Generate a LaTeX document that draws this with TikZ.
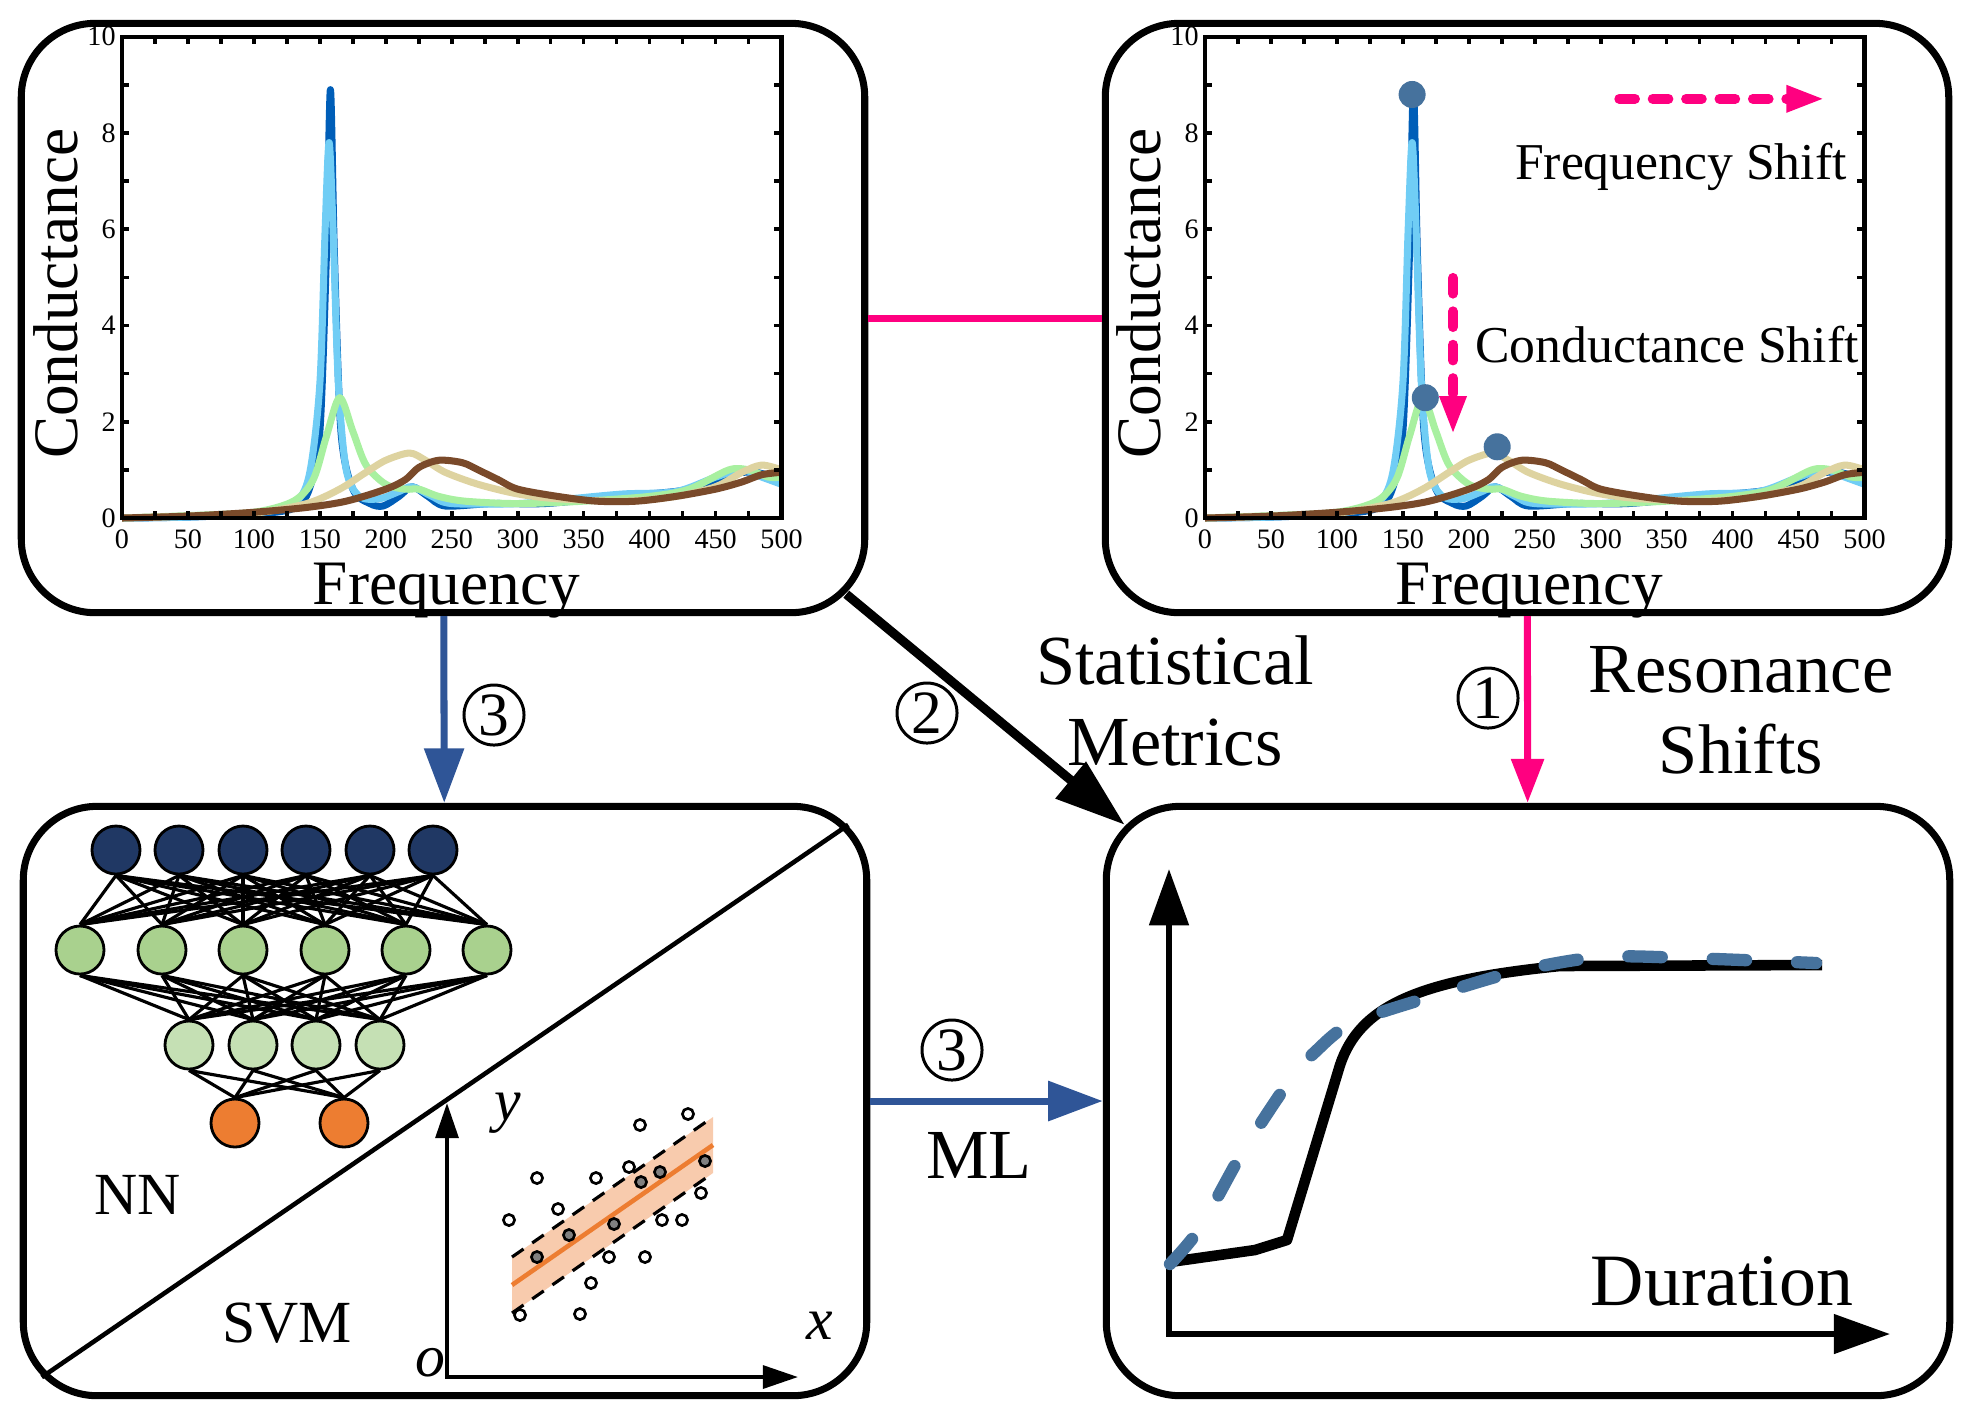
\documentclass[tikz,border=0pt]{standalone}
\usepackage{fontspec}
\setmainfont{Liberation Serif}
\usetikzlibrary{arrows.meta,calc}

\definecolor{pinkc}{RGB}{255,0,128}
\definecolor{arrowblue}{RGB}{47,85,151}
\definecolor{navy}{RGB}{32,56,100}
\definecolor{leafgreen}{RGB}{169,209,142}
\definecolor{palegreen}{RGB}{197,224,180}
\definecolor{outorange}{RGB}{237,125,49}
\definecolor{bandorange}{RGB}{248,203,173}
\definecolor{steel}{RGB}{70,114,157}
\definecolor{cdb}{RGB}{0,94,184}
\definecolor{clb}{RGB}{112,205,245}
\definecolor{clg}{RGB}{168,240,160}
\definecolor{ctan}{RGB}{222,211,160}
\definecolor{cbrown}{RGB}{122,74,42}

\tikzset{
  panel/.style={draw, line width=2pt, rounded corners=21pt, minimum width=8.43cm, minimum height=5.89cm},
  neuron/.style={circle, draw, line width=0.8pt, minimum size=0.48cm, inner sep=0pt},
  wire/.style={line width=0.9pt},
  ticklabel/.style={font=\fontsize{8}{8}\selectfont, inner sep=0.5pt},
  axlabel/.style={font=\fontsize{18}{18}\selectfont, inner sep=0pt},
  biglabel/.style={font=\fontsize{20}{23}\selectfont, align=center, inner sep=0pt},
  midlabel/.style={font=\fontsize{17}{17}\selectfont, inner sep=0pt},
  shiftlabel/.style={font=\fontsize{14.7}{15}\selectfont, inner sep=0pt},
  numlabel/.style={circle, draw, line width=0.85pt, minimum size=0.6cm, inner sep=0pt, font=\fontsize{17.5}{17.5}\selectfont},
  curve/.style={line width=2pt, line join=round},
  pinkline/.style={draw=pinkc, line width=2pt},
  pinkarrow/.style={pinkline, -{Triangle[length=12.5pt,width=9pt]}},
  bluearrow/.style={draw=arrowblue, line width=2pt, -{Triangle[length=15.5pt,width=11pt]}},
  blackarrow/.style={line width=2.6pt, -{Triangle[length=20pt,width=13pt]}},
  shiftarrow/.style={draw=pinkc, line width=2.8pt, dash pattern=on 4.5pt off 5pt, line cap=round, -{Triangle[length=11pt,width=7pt]}},
}

% one conductance plot, in data units
\newcommand{\condplot}[1]{%
  \draw[curve, cdb] plot[smooth, tension=0.5] coordinates {(0,0) (50,0.02) (100,0.08) (130,0.2) (142,0.6) (150,1.8) (155,5.5) (158,8.9) (161,5.5) (166,1.8) (175,0.6) (188,0.3) (198,0.25) (210,0.45) (220,0.65) (232,0.45) (245,0.25) (280,0.3) (320,0.3) (360,0.4) (400,0.5) (430,0.6) (460,0.9) (480,0.95) (500,0.8)};
  \draw[curve, clb] plot[smooth, tension=0.5] coordinates {(0,0) (50,0.02) (100,0.1) (130,0.3) (142,0.9) (150,2.8) (154,6) (157,7.8) (160,6) (164,2.8) (170,1.0) (180,0.45) (195,0.4) (210,0.55) (220,0.65) (235,0.45) (250,0.3) (300,0.3) (340,0.4) (380,0.5) (420,0.55) (450,0.85) (470,1.0) (485,0.85) (500,0.7)};
  \draw[curve, clg] plot[smooth, tension=0.5] coordinates {(0,0) (50,0.05) (100,0.12) (130,0.35) (145,0.8) (155,1.7) (165,2.5) (175,1.8) (185,1.1) (200,0.7) (215,0.6) (225,0.6) (240,0.45) (260,0.35) (300,0.3) (350,0.35) (400,0.45) (430,0.6) (460,1.0) (475,1.0) (490,0.85) (500,0.85)};
  \draw[curve, ctan] plot[smooth, tension=0.5] coordinates {(0,0) (50,0.04) (100,0.1) (140,0.3) (165,0.6) (185,0.95) (200,1.2) (218,1.35) (230,1.2) (245,0.95) (270,0.7) (300,0.5) (330,0.4) (380,0.35) (420,0.45) (450,0.65) (470,0.95) (485,1.1) (500,1.0)};
  \draw[curve, cbrown] plot[smooth, tension=0.5] coordinates {(0,0) (50,0.04) (100,0.12) (140,0.22) (170,0.35) (200,0.6) (215,0.8) (225,1.05) (240,1.2) (258,1.15) (270,1.0) (285,0.8) (300,0.6) (330,0.45) (360,0.35) (390,0.35) (420,0.45) (450,0.6) (470,0.75) (485,0.9) (500,0.95)};
  \draw[line width=1.2pt] (0,0) rectangle (500,10);
  \foreach \t in {0,25,...,500}
    \draw[line width=1pt] (\t,0) -- ++(0,0.15) (\t,10) -- ++(0,-0.15);
  \foreach \t in {0,...,10}
    \draw[line width=1pt] (0,\t) -- ++(5.5,0) (500,\t) -- ++(-5.5,0);
  \foreach \t in {0,50,...,500}
    \node[ticklabel, anchor=north] (#1x\t) at (\t,-0.2) {\t};
  \foreach \t in {0,2,...,10}
    \node[ticklabel, anchor=east] (#1y\t) at (-3,\t) {\t};
  \node[axlabel, rotate=90] (#1cond) at (-50,4.66) {Conductance};
  \node[axlabel] (#1freq) at (246,-1.5) {Frequency};
}

\begin{document}
\begin{tikzpicture}[x=0.01cm, y=-0.01cm]
  \useasboundingbox (0,0) rectangle (1973,1426);

  \node[panel] (tl) at (443,318) {};
  \node[panel] (tr) at (1527,318) {};
  \node[panel] (bl) at (445,1101) {};
  \node[panel] (br) at (1528,1101) {};

  % spectra
  \begin{scope}[shift={(122,518)}, x=0.01318cm, y=0.481cm]
    \condplot{p}
  \end{scope}
  \begin{scope}[shift={(1205,518)}, x=0.01318cm, y=0.481cm]
    \condplot{q}
    \fill[steel] (157,8.8) circle [radius=0.135cm];
    \fill[steel] (167,2.5) circle [radius=0.135cm];
    \fill[steel] (221.5,1.48) circle [radius=0.135cm];
    \coordinate (fs1) at (314,8.71);
    \coordinate (fs2) at (470,8.71);
    \coordinate (cs1) at (188,4.99);
    \coordinate (cs2) at (188,1.73);
    \draw[shiftarrow] (fs1) -- (fs2);
    \draw[shiftarrow] (cs1) -- (cs2);
    \node[shiftlabel, anchor=east] (fsl) at (487,7.3) {Frequency Shift};
    \node[shiftlabel, anchor=east] (csl) at (496,3.6) {Conductance Shift};
  \end{scope}

  % neural net
  \node[neuron, fill=navy] (a1) at (116,850) {};
  \node[neuron, fill=navy] (a2) at (179,850) {};
  \node[neuron, fill=navy] (a3) at (243,850) {};
  \node[neuron, fill=navy] (a4) at (306,850) {};
  \node[neuron, fill=navy] (a5) at (370,850) {};
  \node[neuron, fill=navy] (a6) at (433,850) {};

  \node[neuron, fill=leafgreen] (b1) at (80,950) {};
  \node[neuron, fill=leafgreen] (b2) at (162,950) {};
  \node[neuron, fill=leafgreen] (b3) at (243,950) {};
  \node[neuron, fill=leafgreen] (b4) at (325,950) {};
  \node[neuron, fill=leafgreen] (b5) at (406,950) {};
  \node[neuron, fill=leafgreen] (b6) at (487,950) {};

  \node[neuron, fill=palegreen] (c1) at (189,1045) {};
  \node[neuron, fill=palegreen] (c2) at (253,1045) {};
  \node[neuron, fill=palegreen] (c3) at (316,1045) {};
  \node[neuron, fill=palegreen] (c4) at (380,1045) {};

  \node[neuron, fill=outorange] (d1) at (235,1123) {};
  \node[neuron, fill=outorange] (d2) at (344,1123) {};

  \foreach \i in {1,...,6}
    \foreach \j in {1,...,6}
      \draw[wire] (a\i.south) edge (b\j.north);
  \foreach \i in {1,...,6}
    \foreach \j in {1,...,4}
      \draw[wire] (b\i.south) edge (c\j.north);
  \foreach \i in {1,...,4}
    \foreach \j in {1,2}
      \draw[wire] (c\i.south) edge (d\j.north);

  \node[midlabel] (nn) at (138,1195) {NN};
  \node[midlabel] (svm) at (287,1323) {SVM};
  \draw[line width=1.3pt] ([shift={(22,-22)}]bl.south west) -- ([shift={(-22,22)}]bl.north east);

  % svm regression
  \fill[bandorange] (512,1257) -- (713,1117) -- (713,1173) -- (512,1313) -- cycle;
  \draw[outorange, line width=1.3pt] (512,1285) -- (713,1145);
  \draw[line width=0.9pt, dash pattern=on 4pt off 3pt] (512,1257) -- (713,1117);
  \draw[line width=0.9pt, dash pattern=on 4pt off 3pt] (512,1313) -- (713,1173);
  \foreach \p in {(520,1315),(580,1314),(591,1283),(609,1257),(645,1257),(509,1220),(537,1178),(558,1209),(596,1178),(629,1167),(640,1125),(688,1114),(701,1193),(662,1220),(682,1220)}
    \draw[line width=0.75pt, fill=white] \p circle [radius=0.056cm];
  \foreach \p in {(537,1257),(569,1235),(614,1224),(641,1182),(660,1172),(705,1161)}
    \draw[line width=0.75pt, fill=black!50] \p circle [radius=0.056cm];
  \coordinate (so) at (447,1377);
  \coordinate (sy) at (447,1103);
  \coordinate (sx) at (798,1377);
  \draw[line width=1.1pt, {Triangle[length=10pt,width=6.5pt]}-{Triangle[length=10pt,width=6.5pt]}] (sy) -- (so) -- (sx);
  \node[midlabel] (lo) at (430,1363) {\textit{o}};
  \node[midlabel] (ly) at (508,1113) {\textit{y}};
  \node[midlabel] (lx) at (820,1326) {\textit{x}};

  % duration plot
  \coordinate (bo) at (1169,1334);
  \coordinate (by) at (1169,869);
  \coordinate (bx) at (1890,1334);
  \draw[line width=1.7pt, {Triangle[length=16pt,width=11pt]}-{Triangle[length=16pt,width=11pt]}] (by) -- (bo) -- (bx);
  \draw[line width=3pt, line join=round] (1170,1262) -- (1255,1250) -- (1287,1240) -- (1340,1065) .. controls (1360,1005) and (1420,980) .. (1560,966) -- (1822,965);
  \draw[steel, line width=3.5pt, line cap=round, dash pattern=on 9.5pt off 14.5pt] plot[smooth, tension=0.5] coordinates {(1170,1264) (1200,1228) (1242,1153) (1290,1080) (1315,1052) (1352,1023) (1433,996) (1518,971) (1600,957) (1687,958) (1816,963)};
  \node[biglabel, font=\fontsize{21}{23}\selectfont] (dur) at (1722,1281) {Duration};

  % connectors
  \draw[pinkline] (tl) -- (tr);
  \draw[bluearrow] (tl) -- (bl);
  \draw[pinkarrow] (tr) -- (br);
  \draw[bluearrow] (bl) -- (br);
  \draw[blackarrow] ([shift={(-22,-22)}]tl.south east) -- ([shift={(22,22)}]br.north west);

  \node[numlabel] (n3a) at (494,715) {3};
  \node[numlabel] (n2) at (927,713) {2};
  \node[numlabel] (n1) at (1488,698) {1};
  \node[numlabel] (n3b) at (952,1050) {3};
  \node[biglabel] (stat) at (1175,701) {Statistical\\Metrics};
  \node[biglabel] (reso) at (1741,710) {Resonance\\Shifts};
  \node[biglabel] (ml) at (979,1155) {ML};
\end{tikzpicture}
\end{document}
